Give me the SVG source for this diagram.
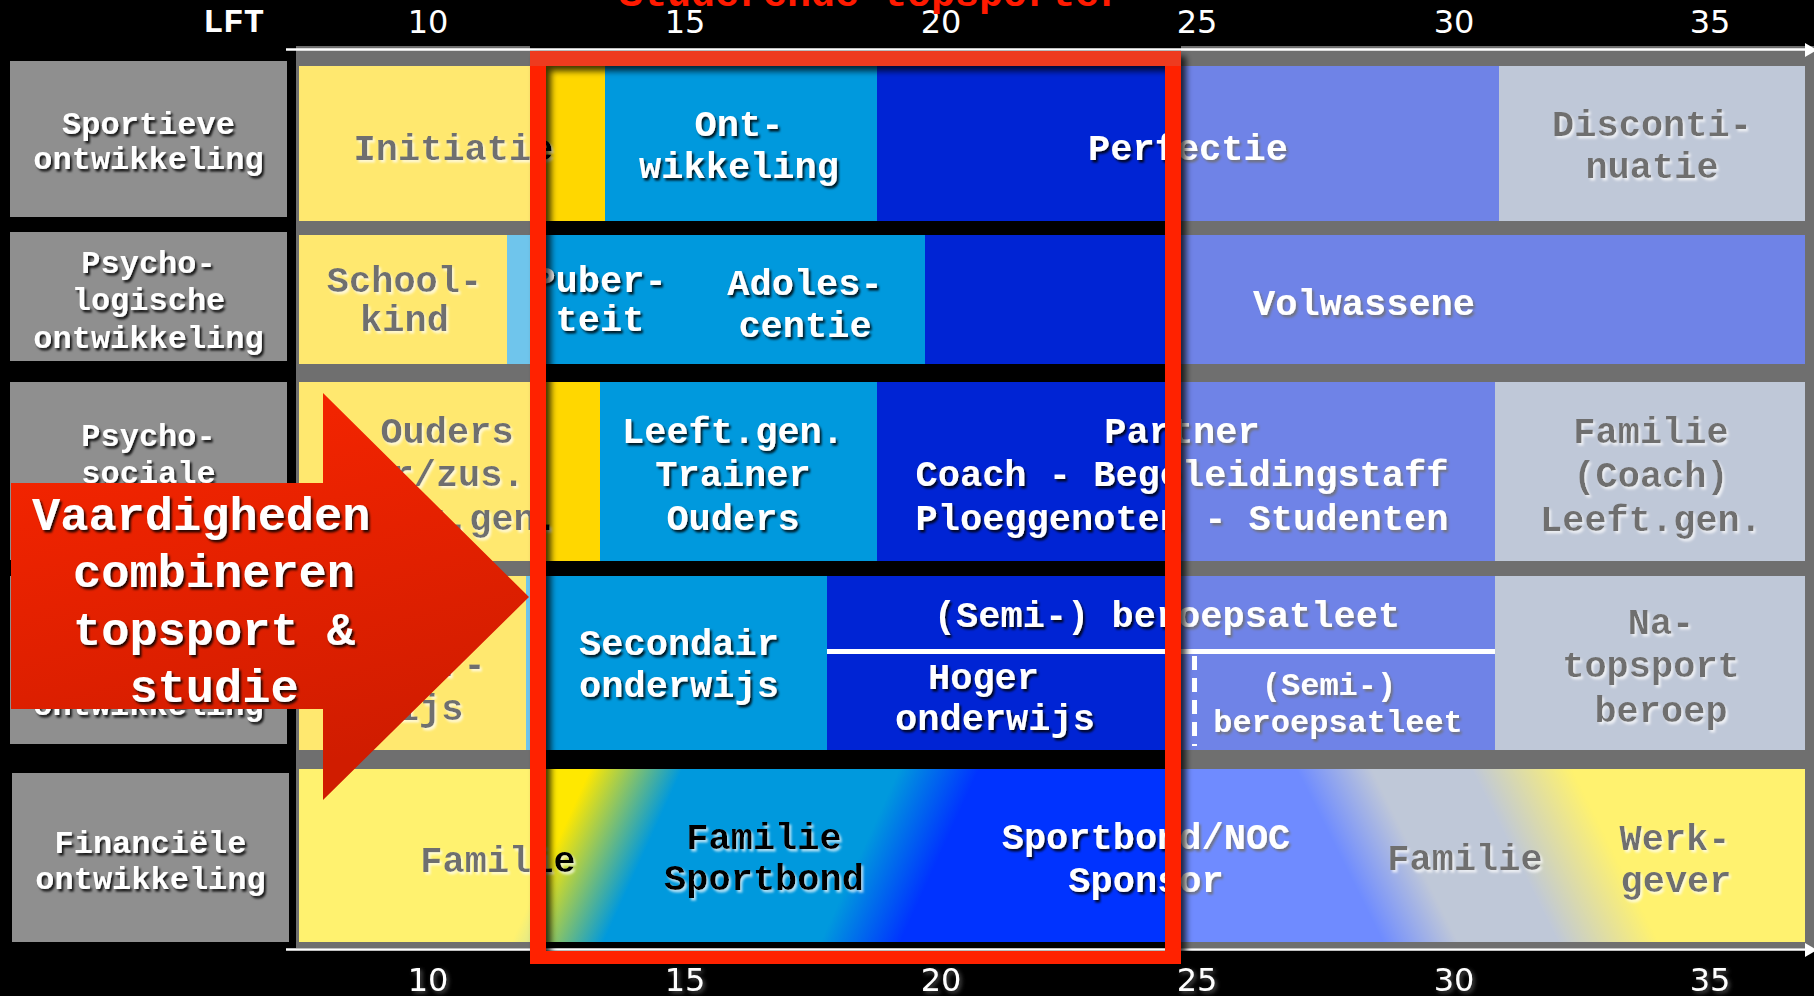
<svg xmlns="http://www.w3.org/2000/svg" width="1814" height="996" viewBox="0 0 1814 996">
<defs>
<style>
.t{font-family:'Liberation Mono','Courier New',monospace;font-weight:bold;text-anchor:middle}
.f37{font-size:37px}
.f32{font-size:32px}
.w{fill:#ffffff;filter:url(#sd)}
.k{fill:#000000;filter:url(#sl)}
.lb{fill:#8f8f8f}
.gold{fill:#ffd700}
.cyan{fill:#0099dd}
.dblue{fill:#0024d4}
.gblue{fill:#8f9eba}
.num{font-family:'DejaVu Sans',sans-serif;font-size:32px;fill:#ffffff;text-anchor:middle}
.ov{fill:#ffffff;fill-opacity:0.435}
</style>
<filter id="sd" x="-10%" y="-30%" width="130%" height="170%"><feDropShadow dx="2" dy="2.5" stdDeviation="1.2" flood-color="#000000" flood-opacity="0.85"/></filter>
<filter id="sl" x="-10%" y="-30%" width="130%" height="170%"><feDropShadow dx="2" dy="2.5" stdDeviation="1.2" flood-color="#ffffff" flood-opacity="0.7"/></filter>
<filter id="sg" x="-20%" y="-30%" width="150%" height="170%"><feDropShadow dx="2" dy="2" stdDeviation="2" flood-color="#777777" flood-opacity="0.7"/></filter>
<filter id="fs" x="-5%" y="-5%" width="110%" height="110%"><feDropShadow dx="5" dy="5" stdDeviation="3" flood-color="#000000" flood-opacity="0.75"/></filter>
<linearGradient id="g5l" gradientUnits="userSpaceOnUse" x1="299" y1="855.5" x2="961.8" y2="1157.1">
<stop offset="0" stop-color="#ffe800"/>
<stop offset="0.315" stop-color="#ffe800"/>
<stop offset="0.43" stop-color="#0099dd"/>
<stop offset="0.701" stop-color="#0099dd"/>
<stop offset="0.801" stop-color="#0033ff"/>
<stop offset="1" stop-color="#0033ff"/>
</linearGradient>
<linearGradient id="g5r" gradientUnits="userSpaceOnUse" x1="1099" y1="855.5" x2="1662.2" y2="573.9">
<stop offset="0" stop-color="#0033ff"/>
<stop offset="0.342" stop-color="#0033ff"/>
<stop offset="0.449" stop-color="#8f9eba"/>
<stop offset="0.591" stop-color="#8f9eba"/>
<stop offset="0.733" stop-color="#ffe800"/>
<stop offset="1" stop-color="#ffe800"/>
</linearGradient>
<linearGradient id="ag" x1="0" y1="0" x2="0.3" y2="1">
<stop offset="0" stop-color="#fa2600"/>
<stop offset="1" stop-color="#d01c00"/>
</linearGradient>
</defs>
<rect x="0" y="0" width="1814" height="996" fill="#000000"/>

<g id="label-sportief">
<rect class="lb" x="10" y="61" width="277" height="156"/>
<text class="t f32 w" x="148.5" y="134">Sportieve</text>
<text class="t f32 w" x="148.5" y="169">ontwikkeling</text>
</g>
<g id="label-psychologisch">
<rect class="lb" x="10" y="232" width="277" height="129"/>
<text class="t f32 w" x="148.5" y="273">Psycho-</text>
<text class="t f32 w" x="148.5" y="310">logische</text>
<text class="t f32 w" x="148.5" y="348">ontwikkeling</text>
</g>
<g id="label-psychosociaal">
<rect class="lb" x="10" y="382" width="277" height="178"/>
<text class="t f32 w" x="148.5" y="446">Psycho-</text>
<text class="t f32 w" x="148.5" y="483">sociale</text>
</g>
<g id="label-academisch">
<rect class="lb" x="10" y="576" width="277" height="168"/>
<text class="t f32 w" x="148.5" y="715">ontwikkeling</text>
</g>
<g id="label-financieel">
<rect class="lb" x="12" y="773" width="277" height="169"/>
<text class="t f32 w" x="150.5" y="853">Financiële</text>
<text class="t f32 w" x="150.5" y="889">ontwikkeling</text>
</g>

<g id="row-sportief">
<rect class="gold" x="299" y="66" width="306" height="155"/>
<rect class="cyan" x="605" y="66" width="272" height="155"/>
<rect class="dblue" x="877" y="66" width="622" height="155"/>
<rect class="gblue" x="1499" y="66" width="306" height="155"/>
<text class="t f37 k" x="453.5" y="160">Initiatie</text>
<text class="t f37 w" x="739" y="136">Ont-</text>
<text class="t f37 w" x="739" y="178">wikkeling</text>
<text class="t f37 w" x="1188" y="160">Perfectie</text>
<text class="t f37 k" x="1652" y="136">Disconti-</text>
<text class="t f37 k" x="1652" y="178">nuatie</text>
</g>

<g id="row-psychologisch">
<rect class="gold" x="299" y="235" width="208" height="129"/>
<rect class="cyan" x="507" y="235" width="418" height="129"/>
<rect class="dblue" x="925" y="235" width="880" height="129"/>
<text class="t f37 k" x="404.5" y="292">School-</text>
<text class="t f37 k" x="404.5" y="331">kind</text>
<text class="t f37 w" x="600" y="292">Puber-</text>
<text class="t f37 w" x="600" y="331">teit</text>
<text class="t f37 w" x="805" y="295">Adoles-</text>
<text class="t f37 w" x="805" y="337">centie</text>
<text class="t f37 w" x="1364" y="315">Volwassene</text>
</g>

<g id="row-psychosociaal">
<rect class="gold" x="299" y="382" width="301" height="179"/>
<rect class="cyan" x="600" y="382" width="277" height="179"/>
<rect class="dblue" x="877" y="382" width="618" height="179"/>
<rect class="gblue" x="1495" y="382" width="310" height="179"/>
<text class="t f37 k" x="447" y="443">Ouders</text>
<text class="t f37 k" x="447" y="486">Br/zus.</text>
<text class="t f37 k" x="447" y="530">Leeft.gen.</text>
<text class="t f37 w" x="733" y="443">Leeft.gen.</text>
<text class="t f37 w" x="733" y="486">Trainer</text>
<text class="t f37 w" x="733" y="530">Ouders</text>
<text class="t f37 w" x="1182" y="443">Partner</text>
<text class="t f37 w" x="1182" y="486">Coach - Begeleidingstaff</text>
<text class="t f37 w" x="1182" y="530">Ploeggenoten - Studenten</text>
<text class="t f37 k" x="1651" y="443">Familie</text>
<text class="t f37 k" x="1651" y="487">(Coach)</text>
<text class="t f37 k" x="1651" y="531">Leeft.gen.</text>
</g>

<g id="row-academisch">
<rect class="gold" x="299" y="576" width="227" height="174"/>
<rect class="cyan" x="526" y="576" width="301" height="174"/>
<rect class="dblue" x="827" y="576" width="668" height="174"/>
<rect class="gblue" x="1495" y="576" width="310" height="174"/>
<rect x="827" y="649" width="668" height="5" fill="#ffffff"/>
<line x1="1194.5" y1="656" x2="1194.5" y2="746" stroke="#ffffff" stroke-width="5" stroke-dasharray="14 8"/>
<text class="t f37 k" x="419" y="676">onder-</text>
<text class="t f37 k" x="419" y="720">wijs</text>
<text class="t f37 w" x="679" y="655">Secondair</text>
<text class="t f37 w" x="679" y="697">onderwijs</text>
<text class="t f37 w" x="1167" y="627">(Semi-) beroepsatleet</text>
<text class="t f37 w" x="928" y="689" style="text-anchor:start">Hoger</text>
<text class="t f37 w" x="995" y="730">onderwijs</text>
<text class="t f32 w" x="1329" y="695">(Semi-)</text>
<text class="t f32 w" x="1338" y="732">beroepsatleet</text>
<text class="t f37 k" x="1661" y="634">Na-</text>
<text class="t f37 k" x="1651" y="677">topsport</text>
<text class="t f37 k" x="1661" y="722">beroep</text>
</g>

<g id="row-financieel">
<rect x="299" y="769" width="801" height="173" fill="url(#g5l)"/>
<rect x="1098" y="769" width="707" height="173" fill="url(#g5r)"/>
<text class="t f37 k" x="498" y="872">Familie</text>
<text class="t f37 k" x="764" y="849">Familie</text>
<text class="t f37 k" x="764" y="890">Sportbond</text>
<text class="t f37 w" x="1146" y="849">Sportbond/NOC</text>
<text class="t f37 w" x="1146" y="892">Sponsor</text>
<text class="t f37 k" x="1465" y="870">Familie</text>
<text class="t f37 k" x="1675" y="850">Werk-</text>
<text class="t f37 k" x="1676" y="892">gever</text>
</g>

<g id="fade-overlay">
<rect class="ov" x="296" y="46" width="234" height="902"/>
<rect class="ov" x="1181" y="46" width="633" height="902"/>
</g>

<g id="connectors">
<line x1="286" y1="49.5" x2="1808" y2="49.5" stroke="#ffffff" stroke-width="2.5"/>
<polygon points="1805,43 1817,50 1805,57" fill="#ffffff"/>
<line x1="286" y1="949.5" x2="1808" y2="949.5" stroke="#ffffff" stroke-width="2.5"/>
<polygon points="1805,943 1817,950 1805,957" fill="#ffffff"/>
</g>

<g id="frame-studerende-topsporter">
<path d="M530,51H1181V964H530Z M546,66V951H1165V66Z" fill="#ff2200" fill-rule="evenodd" filter="url(#fs)"/>
<rect x="530" y="51" width="651" height="15" fill="#ee3b1f"/>
</g>

<g id="arrow-vaardigheden">
<polygon points="11,483 323,483 323,393 529,597 323,800 323,709 11,709" fill="url(#ag)"/>
<text class="w" x="32" y="530" style="font-family:'Liberation Mono','Courier New',monospace;font-weight:bold;font-size:47px">Vaardigheden</text>
<text class="t w" x="214" y="587" style="font-size:47px">combineren</text>
<text class="t w" x="214" y="645" style="font-size:47px">topsport &amp;</text>
<text class="t w" x="214" y="702" style="font-size:47px">studie</text>
</g>

<g id="axis-top">
<text x="233.5" y="32" style="font-family:'Liberation Mono','Courier New',monospace;font-weight:bold;font-size:34px;fill:#ffffff;text-anchor:middle">LFT</text>
<text class="num" x="428" y="33">10</text>
<text class="num" x="685" y="33">15</text>
<text class="num" x="941" y="33">20</text>
<text class="num" x="1197" y="33">25</text>
<text class="num" x="1454" y="33">30</text>
<text class="num" x="1710" y="33">35</text>
</g>
<g id="axis-bottom">
<text class="num" x="428" y="991" filter="url(#sg)">10</text>
<text class="num" x="685" y="991" filter="url(#sg)">15</text>
<text class="num" x="941" y="991" filter="url(#sg)">20</text>
<text class="num" x="1197" y="991" filter="url(#sg)">25</text>
<text class="num" x="1454" y="991" filter="url(#sg)">30</text>
<text class="num" x="1710" y="991" filter="url(#sg)">35</text>
</g>

<g id="title">
<text x="871" y="6" style="font-family:'Liberation Mono','Courier New',monospace;font-weight:bold;font-size:40px;fill:#ff1a00;text-anchor:middle">Studerende topsporter</text>
</g>
</svg>
